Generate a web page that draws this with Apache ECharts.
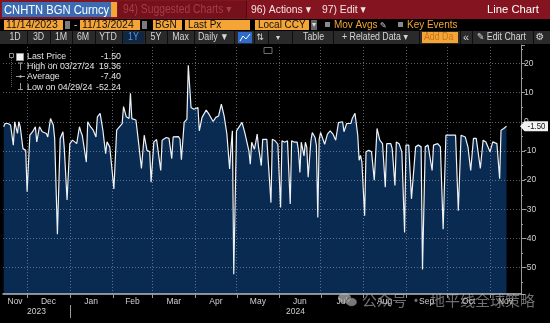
<!DOCTYPE html>
<html>
<head>
<meta charset="utf-8">
<script src="https://cdn.jsdelivr.net/npm/echarts@6/dist/echarts.min.js"></script>
<style>
html, body { margin: 0; padding: 0; background: #000; width: 550px; height: 323px; overflow: hidden; }
#chart { width: 550px; height: 323px; }
</style>
</head>
<body>
<div id="chart"></div>
<script>
// CNHTN BGN Curncy, daily last price, 11/14/2023 - 11/13/2024
const dates = [
  '2023-11-14','2023-11-15','2023-11-17','2023-11-19','2023-11-21','2023-11-22','2023-11-24','2023-11-25','2023-11-26','2023-11-28',
  '2023-11-30','2023-12-01','2023-12-03','2023-12-05','2023-12-07','2023-12-08','2023-12-10','2023-12-12','2023-12-15','2023-12-16',
  '2023-12-18','2023-12-20','2023-12-21','2023-12-23','2023-12-25','2023-12-27','2023-12-28','2023-12-30','2024-01-01','2024-01-03',
  '2024-01-06','2024-01-08','2024-01-09','2024-01-10','2024-01-13','2024-01-14','2024-01-16','2024-01-18','2024-01-20','2024-01-21',
  '2024-01-23','2024-01-25','2024-01-27','2024-01-28','2024-01-30','2024-01-31','2024-02-02','2024-02-04','2024-02-08','2024-02-09',
  '2024-02-11','2024-02-13','2024-02-14','2024-02-15','2024-02-18','2024-02-20','2024-02-22','2024-02-24','2024-02-26','2024-02-28',
  '2024-02-29','2024-03-02','2024-03-04','2024-03-07','2024-03-08','2024-03-11','2024-03-13','2024-03-15','2024-03-16','2024-03-20',
  '2024-03-21','2024-03-22','2024-03-24','2024-03-25','2024-03-26','2024-03-27','2024-03-29','2024-03-31','2024-04-03','2024-04-04',
  '2024-04-06','2024-04-09','2024-04-11','2024-04-14','2024-04-16','2024-04-18','2024-04-20','2024-04-22','2024-04-24','2024-04-26',
  '2024-04-27','2024-04-28','2024-04-29','2024-05-01','2024-05-05','2024-05-07','2024-05-10','2024-05-11','2024-05-12','2024-05-14',
  '2024-05-15','2024-05-16','2024-05-17','2024-05-19','2024-05-20','2024-05-21','2024-05-23','2024-05-24','2024-05-26','2024-05-27',
  '2024-05-29','2024-05-31','2024-06-02','2024-06-03','2024-06-05','2024-06-07','2024-06-09','2024-06-10','2024-06-12','2024-06-14',
  '2024-06-15','2024-06-16','2024-06-17','2024-06-19','2024-06-20','2024-06-21','2024-06-22','2024-06-24','2024-06-25','2024-06-27',
  '2024-06-28','2024-06-29','2024-06-30','2024-07-01','2024-07-04','2024-07-06','2024-07-08','2024-07-10','2024-07-12','2024-07-14',
  '2024-07-17','2024-07-18','2024-07-20','2024-07-23','2024-07-24','2024-07-26','2024-07-28','2024-07-29','2024-07-30','2024-07-31',
  '2024-08-02','2024-08-03','2024-08-05','2024-08-07','2024-08-09','2024-08-11','2024-08-13','2024-08-15','2024-08-17','2024-08-18',
  '2024-08-21','2024-08-22','2024-08-24','2024-08-25','2024-08-27','2024-08-29','2024-08-31','2024-09-01','2024-09-03','2024-09-05',
  '2024-09-06','2024-09-08','2024-09-10','2024-09-12','2024-09-13','2024-09-15','2024-09-17','2024-09-20','2024-09-21','2024-09-24',
  '2024-09-26','2024-09-28','2024-09-30','2024-10-03','2024-10-07','2024-10-09','2024-10-11','2024-10-14','2024-10-16','2024-10-18',
  '2024-10-20','2024-10-22','2024-10-25','2024-10-27','2024-10-29','2024-11-01','2024-11-03','2024-11-06','2024-11-08','2024-11-09',
  '2024-11-11','2024-11-13'
];
const values = [
  -1.7, -0.6, -0.6, -1.1, -8.0, 0.0, -4.0, 0.0, -1.7, -9.2,
  -9.8, -24.0, -4.6, -3.4, -1.7, -6.9, -1.7, -3.4, -4.0, -5.2,
  1.1, -1.1, -5.7, -38.5, -5.7, -3.4, -9.2, -26.8, -7.5, -6.3,
  -7.5, -1.7, -3.4, -4.6, -13.8, 0.0, -1.7, -2.9, -5.2, 1.7,
  2.9, -2.9, -10.9, -6.9, -8.6, -9.2, -23.0, -2.9, -0.6, 5.2,
  1.7, 1.1, 9.8, 1.1, 0.6, -7.5, -16.0, -4.6, -9.8, -10.3,
  -20.7, -6.9, -6.1, -16.7, -6.3, -5.4, -5.7, -12.6, -5.2, -5.1,
  -6.0, -13.0, -0.2, 0.3, 0.9, 19.36, 4.9, 4.3, 4.9, -3.1,
  1.5, 4.0, 2.6, 0.1, 1.5, 2.0, 6.0, 2.0, -4.2, -16.2,
  -8.8, -3.1, -52.24, -3.1, -0.2, -3.7, -10.0, -14.5, -7.0, -9.4,
  -7.0, -4.2, -8.8, -15.0, -6.0, -6.5, -6.0, -5.4, -27.7, -6.0,
  -6.5, -7.7, -29.4, -6.5, -7.0, -6.5, -28.2, -6.5, -7.0, -7.0,
  -10.0, -17.4, -7.0, -11.7, -7.0, -8.8, -19.0, -6.5, -3.7, -5.4,
  -8.2, -32.8, -6.0, -3.7, -7.7, -4.2, -3.1, -4.2, -6.3, -0.3,
  0.0, -3.4, -0.6, -0.6, 1.1, 2.9, -4.6, -13.2, -11.5, -13.8,
  -32.2, -10.3, -9.8, -10.3, -20.0, -2.3, -6.3, -7.5, -22.4, -7.5,
  -7.5, -9.2, -21.8, -6.9, -7.5, -10.3, -37.9, -8.0, -8.0, -26.4,
  -25.9, -8.6, -8.0, -8.6, -50.6, -8.6, -8.0, -16.7, -8.0, -7.5,
  -8.6, -36.8, -4.6, -4.6, -4.6, -30.5, -4.6, -5.2, -8.6, -16.7,
  -5.7, -5.7, -16.0, -6.3, -6.9, -10.3, -6.9, -7.5, -19.5, -2.9,
  -2.3, -1.5
];
const averageValue = -7.40;
const yTickValues = [20, 10, 0, -10, -20, -30, -40, -50];
const monthStarts = [
  '2023-11-01','2023-12-01','2024-01-01','2024-02-01','2024-03-01','2024-04-01','2024-05-01',
  '2024-06-01','2024-07-01','2024-08-01','2024-09-01','2024-10-01','2024-11-01','2024-12-01'
];
const monthNames = ['Nov','Dec','Jan','Feb','Mar','Apr','May','Jun','Jul','Aug','Sep','Oct','Nov'];
const yearNames = ['2023', '2024'];
const yearStarts = ['2023-01-01', '2024-01-01', '2025-01-01'];

const FONT = '"Liberation Sans", Arial, "DejaVu Sans", sans-serif';
const ORANGE = '#f4a536';
const ts = s => new Date(s + 'T00:00:00').getTime();
const xMin = new Date(2023, 10, 13, 12).getTime();
const xMax = new Date(2024, 10, 23, 12).getTime();
const points = dates.map((d, i) => [ts(d), values[i]]);

const chart = echarts.init(document.getElementById('chart'), null, { renderer: 'canvas' });

const gridDots = { type: [1, 2], color: 'rgba(150,162,180,0.6)', width: 1 };

chart.setOption({
  backgroundColor: '#000',
  animation: false,
  textStyle: { fontFamily: FONT },
  grid: { left: 3, right: 29, top: 45, bottom: 29, containLabel: false, outerBoundsMode: 'none' },
  xAxis: {
    type: 'time', min: xMin, max: xMax, z: 4,
    axisLine: { show: true, onZero: false, lineStyle: { color: '#b4bcc6', width: 1.5 } },
    axisTick: { show: false },
    axisLabel: { show: false },
    splitLine: { show: false }
  },
  yAxis: {
    type: 'value', position: 'right', min: -59, max: 26.3, splitNumber: 8, z: 4,
    axisLine: { show: true, onZero: false, lineStyle: { color: '#9a9a9a', width: 1 } },
    axisTick: { show: true, length: 4, lineStyle: { color: '#9a9a9a' } },
    minorTick: { show: true, splitNumber: 2, length: 2, lineStyle: { color: '#9a9a9a' } },
    axisLabel: {
      show: true, margin: 3, fontSize: 8.5, color: '#cfcfcf', fontFamily: FONT,
      showMinLabel: false, showMaxLabel: false
    },
    splitLine: { show: false }
  },
  series: [
    {
      type: 'line', data: points, symbol: 'none', z: 1,
      lineStyle: { width: 0 },
      areaStyle: { color: '#092a51', origin: 'start', opacity: 1 },
      markLine: {
        silent: true, symbol: ['none', 'none'], z: 2, animation: false,
        label: { show: false },
        lineStyle: gridDots,
        emphasis: { disabled: true },
        data: yTickValues.map(v => ({ yAxis: v }))
          .concat(monthStarts.filter(d => ts(d) > xMin && ts(d) < xMax).map(d => ({ xAxis: ts(d) })))
      }
    },
    {
      type: 'line', data: points, symbol: 'none', z: 3,
      lineStyle: { color: '#eef2f7', width: 1.2 }
    }
  ]
});

const px = t => chart.convertToPixel({ xAxisIndex: 0 }, t);
const py = v => chart.convertToPixel({ yAxisIndex: 0 }, v);

function txt(x, y, s, fs, color, sx, align, extra) {
  return Object.assign({
    type: 'text', x: x, y: y, scaleX: sx || 1, z: 60, silent: true,
    style: { text: s, font: fs + 'px ' + FONT, fill: color, align: align || 'left', verticalAlign: 'middle' }
  }, extra || {});
}
function cjk(x, y, s, align) {
  return {
    type: 'text', x: x, y: y, z: 200, silent: true,
    style: { text: s, font: '15px "Noto Sans CJK SC", sans-serif', fill: 'rgba(185,185,185,0.6)', align: align || 'left', verticalAlign: 'middle' }
  };
}
function box(x, y, w, h, fill, stroke, z) {
  return {
    type: 'rect', z: z || 50, silent: true,
    shape: { x: x, y: y, width: w, height: h },
    style: { fill: fill || 'none', stroke: stroke || null, lineWidth: 1 }
  };
}
function seg(x1, y1, x2, y2, color, z, dash) {
  return {
    type: 'line', z: z || 55, silent: true,
    shape: { x1: x1, y1: y1, x2: x2, y2: y2 },
    style: { stroke: color, lineWidth: 1, lineDash: dash || null }
  };
}

const g = [];

// title bar
g.push(box(0, 0, 550, 19, '#84141f'));
g.push(box(118, 1, 128, 17, '#74111b'));
g.push(box(2, 2, 110, 15, '#3b6cb3'));
g.push(box(111, 2, 6, 15, ORANGE));
g.push(txt(4, 10, 'CNHTN BGN Curncy', 13.5, '#ffffff', 0.83));
g.push(txt(123, 10, '94) Suggested Charts \u25BE', 12, '#a83c48', 0.86));
g.push(box(246, 1, 1, 17, '#55080f'));
g.push(txt(251, 10, '96) Actions \u25BE', 11.5, '#f3e4e4', 0.9));
g.push(txt(322, 10, '97) Edit \u25BE', 11.5, '#f3e4e4', 0.9));
g.push(txt(539, 10, 'Line Chart', 11.5, '#ffffff', 0.98, 'right'));

// date / field row
g.push(box(0, 19, 550, 12, '#000000'));
g.push(box(4, 20, 59, 10, ORANGE));
g.push(txt(6, 25.5, '11/14/2023', 10.5, '#111', 1));
g.push(box(65, 21, 5, 8, '#7b7b7b'));
g.push(txt(74, 25, '-', 10, '#cccccc', 1));
g.push(box(80, 20, 60, 10, ORANGE));
g.push(txt(82, 25.5, '11/13/2024', 10.5, '#111', 1));
g.push(box(142, 21, 5, 8, '#7b7b7b'));
g.push(box(153, 20, 29, 10, ORANGE));
g.push(txt(155, 25.5, 'BGN', 10.5, '#111', 0.95));
g.push(box(185, 20, 65, 10, ORANGE));
g.push(txt(188, 25.5, 'Last Px', 10.5, '#111', 0.95));
g.push(box(255, 20, 54, 10, ORANGE));
g.push(txt(258, 25.5, 'Local CCY', 10.5, '#111', 0.95));
g.push(box(311, 20, 6, 10, '#666666'));
g.push(txt(314, 25, '\u25BE', 8, '#dddddd', 1, 'center'));
g.push(box(325, 22, 5, 5, '#8a8a8a'));
g.push(txt(334, 25.5, 'Mov Avgs', 10.5, ORANGE, 0.95));
g.push(txt(380, 25.5, '\u270E', 8, '#cccccc', 1));
g.push(box(398, 22, 5, 5, '#8a8a8a'));
g.push(txt(407, 25.5, 'Key Events', 10.5, ORANGE, 0.95));

// toolbar row
g.push(box(0, 31, 550, 13, '#2a2a2a'));
[27, 50, 72, 95, 122, 145, 167, 194, 234, 254, 268, 292, 333, 419, 460, 472, 533].forEach(x => g.push(box(x, 31, 1, 13, '#0d0d0d')));
g.push(box(123, 32, 21, 11, '#112640'));
[['1D', 15], ['3D', 38.5], ['1M', 61], ['6M', 83], ['YTD', 108], ['5Y', 156], ['Max', 180.5]].forEach(b => g.push(txt(b[1], 37.5, b[0], 10, '#d6d6d6', 0.88, 'center')));
g.push(txt(133.5, 37.5, '1Y', 10, '#4a95f5', 0.88, 'center'));
g.push(txt(198, 37.5, 'Daily \u25BC', 10, '#d6d6d6', 0.88));
g.push(box(238, 32, 14, 11, '#2f6bc9'));
g.push({ type: 'polyline', z: 61, silent: true, shape: { points: [[240, 41], [243, 36], [246, 39], [250, 34]] }, style: { stroke: '#ffffff', lineWidth: 1, fill: null } });
g.push(txt(260, 37.5, '\u21C5', 9, '#d6d6d6', 1, 'center'));
g.push(txt(278, 37.5, '\u25BE', 8, '#d6d6d6', 1, 'center'));
g.push(txt(303, 37.5, 'Table', 10, '#d6d6d6', 0.88));
g.push(txt(342, 37.5, '+ Related Data \u25BE', 10, '#d6d6d6', 0.88));
g.push(box(422, 32, 36, 11, ORANGE));
g.push(txt(424, 37.5, 'Add Da', 10, '#c2781a', 0.88));
g.push(txt(466, 37.5, '\u00AB', 11, '#d6d6d6', 1, 'center'));
g.push(txt(477, 37.5, '\u270E Edit Chart', 10, '#d6d6d6', 0.88));
g.push(txt(540, 37.5, '\u2699', 10, '#d6d6d6', 1, 'center'));

// small chart-control icon
g.push(box(264, 47.5, 8, 6, null, '#6f6f6f'));

// legend block
const lastValue = values[values.length - 1];
const highValue = Math.max.apply(null, values);
const lowValue = Math.min.apply(null, values);
const highDate = dates[values.indexOf(highValue)];
const lowDate = dates[values.indexOf(lowValue)];
const mdy = d => d.slice(5, 7) + '/' + d.slice(8, 10) + '/' + d.slice(2, 4);
const legendRows = [
  ['Last Price', lastValue, 56.5],
  ['High on ' + mdy(highDate), highValue, 66.5],
  ['Average', averageValue, 76.5],
  ['Low on ' + mdy(lowDate), lowValue, 87]
];
g.push(box(9.5, 53.5, 4, 4, null, '#8a8a8a'));
g.push(seg(11.5, 58, 11.5, 87, '#5a5a5a', 55, [1, 1]));
g.push(box(16.5, 53.5, 7, 7, '#f4f4f4', '#9a9a9a'));
g.push(seg(18, 63, 23, 63, '#9a9a9a'));
g.push(seg(20.5, 63, 20.5, 70, '#9a9a9a'));
g.push(seg(16, 76.5, 25, 76.5, '#9a9a9a'));
g.push({ type: 'circle', z: 56, silent: true, shape: { cx: 20.5, cy: 76.5, r: 1.2 }, style: { fill: '#bbbbbb' } });
g.push(seg(20.5, 83, 20.5, 89.5, '#9a9a9a'));
g.push(seg(18, 89.5, 23, 89.5, '#9a9a9a'));
legendRows.forEach(r => {
  g.push(txt(27, r[2], r[0], 9.5, '#e4e4e4', 0.93));
  g.push(txt(121, r[2], r[1].toFixed(2), 9.5, '#e4e4e4', 0.93, 'right'));
});

// x-axis: month ticks, month names, years
const plotBottom = py(-59);
monthStarts.forEach(d => {
  const t = ts(d);
  if (t > xMin && t < xMax) {
    const x = Math.round(px(t)) + 0.5;
    g.push(seg(x, plotBottom, x, plotBottom + 4, '#9a9a9a'));
  }
});
monthNames.forEach((name, i) => {
  const a = Math.max(ts(monthStarts[i]), xMin);
  const b = Math.min(ts(monthStarts[i + 1]), xMax);
  g.push(txt((px(a) + px(b)) / 2, 301.5, name, 8.5, '#cfcfcf', 1, 'center'));
});
yearNames.forEach((name, i) => {
  const a = Math.max(ts(yearStarts[i]), xMin);
  const b = Math.min(ts(yearStarts[i + 1]), xMax);
  g.push(txt((px(a) + px(b)) / 2, 311.5, name, 8.5, '#cfcfcf', 1, 'center'));
});
const yearX = Math.round(px(ts(yearStarts[1]))) + 0.5;
g.push(seg(yearX, 305, yearX, 318, '#9a9a9a'));

// last-price tag on the value axis
const ty = py(lastValue);
g.push({
  type: 'polygon', z: 70, silent: true,
  shape: { points: [[520, ty], [524.5, ty - 5], [548, ty - 5], [548, ty + 5], [524.5, ty + 5]] },
  style: { fill: '#f2f2f2' }
});
g.push(txt(536.5, ty + 0.5, lastValue.toFixed(2), 8.5, '#111111', 0.92, 'center', { z: 71 }));

// watermark
g.push({ type: 'ellipse', z: 200, silent: true, shape: { cx: 344.5, cy: 298, rx: 6.5, ry: 5 }, style: { fill: 'rgba(175,175,175,0.75)' } });
g.push({ type: 'ellipse', z: 201, silent: true, shape: { cx: 351.5, cy: 302, rx: 5.5, ry: 4.3 }, style: { fill: 'rgba(150,150,150,0.8)', stroke: 'rgba(0,0,0,0.5)', lineWidth: 0.8 } });
g.push(cjk(362, 300, '公众号'));
g.push(cjk(416, 300, '·', 'center'));
g.push(cjk(430, 300, '地平线全球策略'));

chart.setOption({ graphic: { elements: g } });
</script>
</body>
</html>
